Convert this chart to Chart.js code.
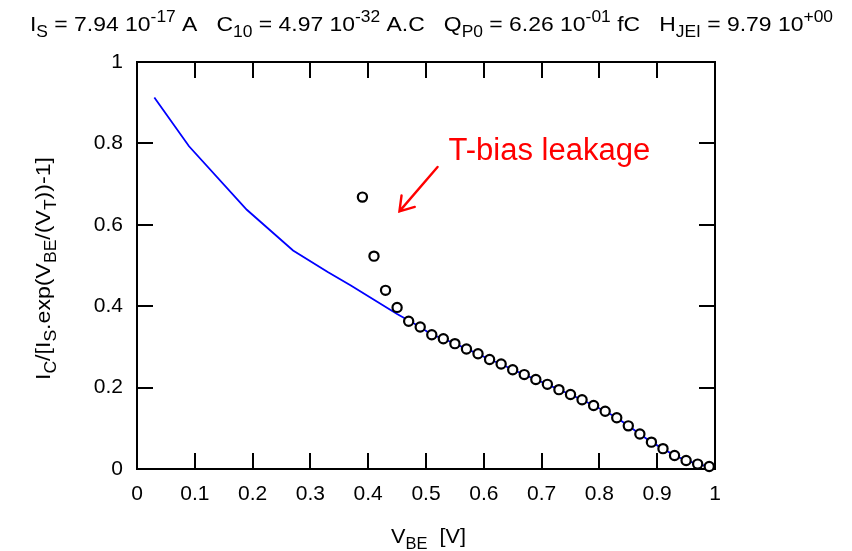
<!DOCTYPE html>
<html>
<head>
<meta charset="utf-8">
<script src="https://cdn.jsdelivr.net/npm/chart.js@4/dist/chart.umd.min.js"></script>
<style>
  html, body { margin: 0; padding: 0; background: #ffffff; }
  #wrap { width: 852px; height: 551px; }
</style>
</head>
<body>
<div id="wrap"><canvas id="c" width="852" height="551"></canvas></div>
<script>
// Measured normalised collector current vs base-emitter voltage
const measuredVbe = [0.39, 0.41, 0.43, 0.45, 0.47, 0.49, 0.51, 0.53, 0.55, 0.57, 0.59,
  0.61, 0.63, 0.65, 0.67, 0.69, 0.71, 0.73, 0.75, 0.77, 0.79, 0.81, 0.83, 0.85, 0.87,
  0.89, 0.91, 0.93, 0.95, 0.97, 0.99];
const measuredRatio = [0.668, 0.523, 0.439, 0.397, 0.363, 0.349, 0.330, 0.320, 0.308, 0.295, 0.283,
  0.269, 0.258, 0.244, 0.232, 0.220, 0.208, 0.195, 0.183, 0.170, 0.156, 0.142, 0.126, 0.106, 0.086,
  0.066, 0.050, 0.033, 0.021, 0.012, 0.006];

// Model curve
const modelVbe = [0.03, 0.09, 0.19, 0.27, 0.33, 0.37, 0.41, 0.45, 0.47, 0.49, 0.51, 0.53, 0.55, 0.57,
  0.59, 0.61, 0.63, 0.65, 0.67, 0.69, 0.71, 0.73, 0.75, 0.77, 0.79, 0.81, 0.83, 0.85, 0.87, 0.89,
  0.91, 0.93, 0.95, 0.97, 0.99];
const modelRatio = [0.913, 0.793, 0.637, 0.537, 0.484, 0.451, 0.416, 0.381, 0.365, 0.349, 0.330, 0.320,
  0.308, 0.295, 0.283, 0.269, 0.258, 0.244, 0.232, 0.220, 0.208, 0.195, 0.183, 0.170, 0.156, 0.142,
  0.126, 0.106, 0.086, 0.066, 0.050, 0.033, 0.021, 0.012, 0.006];

const xTicks = [0, 0.1, 0.2, 0.3, 0.4, 0.5, 0.6, 0.7, 0.8, 0.9, 1];
const yTicks = [0, 0.2, 0.4, 0.6, 0.8, 1];

// Rich text pieces: '' normal, 'sub' subscript, 'sup' superscript
const headerParts = [
  ['I', ''], ['S', 'sub'], [' = 7.94 10', ''], ['-17', 'sup'], [' A   C', ''], ['10', 'sub'],
  [' = 4.97 10', ''], ['-32', 'sup'], [' A.C   Q', ''], ['P0', 'sub'], [' = 6.26 10', ''], ['-01', 'sup'],
  [' fC   H', ''], ['JEI', 'sub'], [' = 9.79 10', ''], ['+00', 'sup']
];
const yTitleParts = [
  ['I', ''], ['C', 'sub'], ['/[I', ''], ['S', 'sub'], ['.exp(V', ''], ['BE', 'sub'],
  ['/(V', ''], ['T', 'sub'], ['))-1]', '']
];
const xTitleParts = [['V', ''], ['BE', 'sub'], ['  [V]', '']];
const noteText = 'T-bias leakage';
const notePos = [0.539, 0.760];
const arrowTail = [0.520, 0.742];
const arrowTip = [0.454, 0.633];

const FAMILY = '"Liberation Sans", Arial, Helvetica, sans-serif';

function partFont(kind, size) {
  const s = kind === '' ? size : size * 0.76;
  return s.toFixed(2) + 'px ' + FAMILY;
}
function richWidth(ctx, parts, size) {
  let w = 0;
  for (const [t, k] of parts) { ctx.font = partFont(k, size); w += ctx.measureText(t).width; }
  return w;
}
function drawRich(ctx, parts, x, y, size) {
  let cx = x;
  ctx.textAlign = 'left';
  ctx.textBaseline = 'alphabetic';
  for (const [t, k] of parts) {
    ctx.font = partFont(k, size);
    let dy = 0;
    if (k === 'sub') dy = size * 0.30;
    if (k === 'sup') dy = -size * 0.42;
    ctx.fillText(t, cx, y + dy);
    cx += ctx.measureText(t).width;
  }
}
// Draw rich text squeezed or stretched horizontally to a given span
function drawRichFit(ctx, parts, x, y, size, span) {
  const w = richWidth(ctx, parts, size);
  ctx.save();
  ctx.translate(x, y);
  ctx.scale(span / w, 1);
  drawRich(ctx, parts, 0, 0, size);
  ctx.restore();
}

// Boxed frame with inward ticks on all four sides
const framePlugin = {
  id: 'framePlugin',
  beforeDatasetsDraw(chart) {
    const { ctx, chartArea: a, scales: { x, y } } = chart;
    const len = 16;
    ctx.save();
    ctx.strokeStyle = '#000';
    ctx.lineWidth = 2;
    ctx.strokeRect(a.left, a.top, a.right - a.left, a.bottom - a.top);
    ctx.beginPath();
    xTicks.forEach(v => {
      if (v <= x.min || v >= x.max) return;
      const p = Math.round(x.getPixelForValue(v));
      ctx.moveTo(p, a.bottom); ctx.lineTo(p, a.bottom - len);
      ctx.moveTo(p, a.top); ctx.lineTo(p, a.top + len);
    });
    yTicks.forEach(v => {
      if (v <= y.min || v >= y.max) return;
      const p = Math.round(y.getPixelForValue(v));
      ctx.moveTo(a.left, p); ctx.lineTo(a.left + len, p);
      ctx.moveTo(a.right, p); ctx.lineTo(a.right - len, p);
    });
    ctx.stroke();
    ctx.restore();
  }
};

// Header, axis titles and the annotation
const textPlugin = {
  id: 'textPlugin',
  afterDraw(chart) {
    const { ctx, chartArea: a, scales: { x, y } } = chart;
    ctx.save();
    ctx.fillStyle = '#000';

    // header line
    drawRichFit(ctx, headerParts, 30, 31, 21, 803);

    // y title
    ctx.save();
    ctx.translate(50, 380);
    ctx.rotate(-Math.PI / 2);
    drawRichFit(ctx, yTitleParts, 0, 0, 21, 223);
    ctx.restore();

    // x title
    drawRichFit(ctx, xTitleParts, 391, 543, 21, 75);

    // annotation
    ctx.fillStyle = '#ff0000';
    ctx.strokeStyle = '#ff0000';
    ctx.font = '31px ' + FAMILY;
    ctx.textAlign = 'left';
    ctx.textBaseline = 'alphabetic';
    ctx.fillText(noteText, x.getPixelForValue(notePos[0]), y.getPixelForValue(notePos[1]));

    const tx = x.getPixelForValue(arrowTail[0]), ty = y.getPixelForValue(arrowTail[1]);
    const hx = x.getPixelForValue(arrowTip[0]), hy = y.getPixelForValue(arrowTip[1]);
    const ang = Math.atan2(ty - hy, tx - hx);
    const hl = 16, spread = 33 * Math.PI / 180;
    ctx.lineWidth = 2.4;
    ctx.lineCap = 'round';
    ctx.beginPath();
    ctx.moveTo(tx, ty); ctx.lineTo(hx, hy);
    ctx.moveTo(hx + hl * Math.cos(ang - spread), hy + hl * Math.sin(ang - spread));
    ctx.lineTo(hx, hy);
    ctx.lineTo(hx + hl * Math.cos(ang + spread), hy + hl * Math.sin(ang + spread));
    ctx.stroke();
    ctx.restore();
  }
};

const tickFont = { family: FAMILY, size: 21 };

new Chart(document.getElementById('c'), {
  type: 'scatter',
  data: {
    datasets: [
      {
        label: 'measured',
        data: measuredVbe.map((v, i) => ({ x: v, y: measuredRatio[i] })),
        showLine: false,
        pointStyle: 'circle',
        pointRadius: 4.6,
        pointBorderWidth: 2.2,
        pointBorderColor: '#000',
        pointBackgroundColor: '#fff',
        order: 0,
        clip: false
      },
      {
        label: 'model',
        data: modelVbe.map((v, i) => ({ x: v, y: modelRatio[i] })),
        showLine: true,
        borderColor: '#0000ff',
        borderWidth: 1.8,
        pointRadius: 0,
        tension: 0,
        fill: false,
        order: 1
      }
    ]
  },
  options: {
    responsive: false,
    animation: false,
    devicePixelRatio: 1,
    layout: { padding: { left: 0, top: 62, right: 137, bottom: 0 } },
    plugins: { legend: { display: false }, tooltip: { enabled: false }, title: { display: false } },
    scales: {
      x: {
        type: 'linear', min: 0, max: 1,
        afterFit(s) { s.height = 82; },
        afterBuildTicks(s) { s.ticks = xTicks.map(v => ({ value: v })); },
        grid: { display: false, drawTicks: false },
        border: { display: false },
        ticks: { color: '#000', font: tickFont, padding: 13, maxRotation: 0, autoSkip: false,
                 callback: v => String(v) }
      },
      y: {
        type: 'linear', min: 0, max: 1,
        afterFit(s) { s.width = 137; },
        afterBuildTicks(s) { s.ticks = yTicks.map(v => ({ value: v })); },
        grid: { display: false, drawTicks: false },
        border: { display: false },
        ticks: { color: '#000', font: tickFont, padding: 14, autoSkip: false,
                 callback: v => String(v) }
      }
    }
  },
  plugins: [framePlugin, textPlugin]
});
</script>
</body>
</html>
